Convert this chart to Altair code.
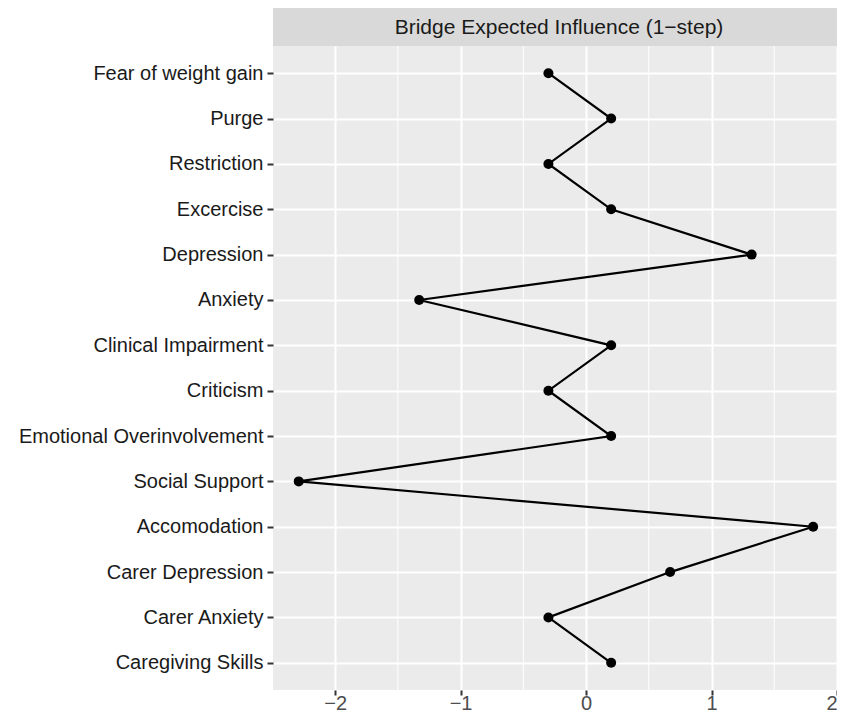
import altair as alt
import pandas as pd

# ---- data ----
nodes = [
    "Fear of weight gain", "Purge", "Restriction", "Excercise", "Depression",
    "Anxiety", "Clinical Impairment", "Criticism", "Emotional Overinvolvement",
    "Social Support", "Accomodation", "Carer Depression", "Carer Anxiety",
    "Caregiving Skills",
]
values = [-0.30, 0.20, -0.30, 0.20, 1.32, -1.33, 0.20, -0.30, 0.20,
          -2.29, 1.81, 0.67, -0.30, 0.20]
x_ticks = [-2, -1, 0, 1, 2]
x_minor = [-1.5, -0.5, 0.5, 1.5]
x_domain = [-2.495, 2.0]
strip_title = "Bridge Expected Influence (1\u2212step)"

# ---- layout / style ----
W, H, STRIP, BOTTOM = 564, 644, 38, 25
FONT = "Liberation Sans"
FS = 20

df = pd.DataFrame({"node": nodes, "value": values, "idx": list(range(len(nodes)))})

xscale = alt.Scale(domain=x_domain, nice=False, zero=False)
yscale = alt.Scale(type="point", domain=nodes, padding=0.6)

x_axis = alt.Axis(values=x_ticks, title=None, grid=True, gridColor="white",
                  gridWidth=2, tickColor="#333333", tickWidth=2, tickSize=5,
                  labelPadding=14, labelBaseline="alphabetic",
                  labelColor="#4D4D4D", labelFontSize=FS,
                  domain=False, format="d")
x_enc = alt.X("value:Q", scale=xscale, axis=x_axis)
y_enc = alt.Y(
    "node:N", scale=yscale, sort=nodes,
    axis=alt.Axis(title=None, grid=True, gridColor="white", gridWidth=2,
                  tickColor="#333333", tickWidth=2, tickSize=6, labelPadding=4,
                  labelColor="#1A1A1A", labelFontSize=FS, labelLimit=0,
                  domain=False),
)

minor = alt.Chart(pd.DataFrame({"m": x_minor})).mark_rule(
    color="white", strokeWidth=1
).encode(x=alt.X("m:Q", scale=xscale, axis=x_axis))

base = alt.Chart(df)
line = base.mark_line(color="black", strokeWidth=2.2).encode(
    x=x_enc, y=y_enc, order=alt.Order("idx:Q")
)
points = base.mark_circle(color="black", size=100, opacity=1).encode(x=x_enc, y=y_enc)

strip_df = pd.DataFrame({"t": [strip_title]})
strip_rect = alt.Chart(strip_df).mark_rect(color="#D9D9D9").encode(
    x=alt.value(0), x2=alt.value(W), y=alt.value(-STRIP), y2=alt.value(0)
)
strip_text = alt.Chart(strip_df).mark_text(
    fontSize=21, color="#1A1A1A", baseline="middle", align="center"
).encode(x=alt.value(W / 2 + 4), y=alt.value(-STRIP / 2 + 1), text="t:N")

chart = (
    alt.layer(minor, line, points, strip_rect, strip_text)
    .properties(
        width=W, height=H,
        autosize=alt.AutoSizeParams(type="none"),
        padding={"left": 265, "top": STRIP, "right": 0, "bottom": BOTTOM},
    )
    .configure(font=FONT)
    .configure_view(fill="#EBEBEB", strokeWidth=0)
)

chart.save("out.html", embed_options={"renderer": "svg", "actions": False})
